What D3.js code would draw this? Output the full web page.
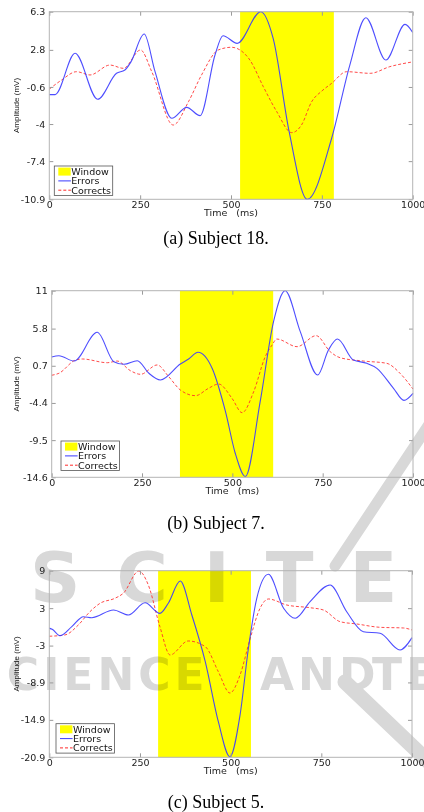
<!DOCTYPE html>
<html>
<head>
<meta charset="utf-8">
<script src="https://cdn.jsdelivr.net/npm/d3@7/dist/d3.min.js"></script>
<style>
  body { margin: 0; background: #fff; }
  svg { display: block; }
</style>
</head>
<body>
<div id="chart"></div>
<script>
const Width = 424;
const Height = 812;

const timeTicks = [0, 250, 500, 750, 1000];
const legendLabels = ["Window", "Errors", "Corrects"];
const captions = ["(a) Subject 18.", "(b) Subject 7.", "(c) Subject 5."];

// (a) subject 18
const yTicksA = [6.3, 2.8, -0.6, -4, -7.4, -10.9];
const windowA = [525, 783];
const errTimeA = [0, 16, 71, 133, 185, 208, 225, 261, 291, 337, 378, 415, 456, 478, 517, 582, 616, 660, 710, 777, 827, 871, 926, 979, 1000];
const errValA = [-1.3, -1.3, 2.49, -1.73, 0.65, 0.95, 1.72, 4.25, 0.8, -3.47, -2.47, -3.23, 2.33, 4.1, 3.4, 6.3, 3.86, -4.7, -10.9, -5.3, 1.41, 5.75, 1.87, 5.14, 4.4];
const corTimeA = [0, 34, 75, 112, 167, 204, 251, 282, 341, 383, 419, 465, 502, 516, 552, 589, 626, 667, 694, 722, 750, 777, 818, 883, 937, 1000];
const corValA = [-0.8, 0.04, 0.8, 0.5, 1.41, 1.11, 2.79, 0.8, -4.09, -1.95, 0.5, 2.79, 3.04, 2.94, 1.87, -0.58, -2.87, -4.79, -4.09, -1.95, -0.97, -0.27, 0.8, 0.65, 1.26, 1.7];

// (b) subject 7
const yTicksB = [11, 5.8, 0.7, -4.4, -9.5, -14.6];
const windowB = [355, 613];
const errTimeB = [0, 20, 62, 126, 172, 200, 237, 269, 301, 356, 379, 405, 444, 481, 508, 536, 577, 614, 646, 688, 736, 766, 791, 835, 872, 900, 946, 975, 1000];
const errValB = [1.9, 2.08, 1.35, 5.29, 1.26, 0.9, 1.4, -0.33, -1.25, 0.94, 1.63, 2.55, 0.35, -5.6, -11.3, -14.5, -4.23, 6.75, 11, 5.38, -0.57, 2.86, 4.37, 1.49, 1.04, 0.35, -2.39, -4.04, -3.08];
const corTimeB = [0, 20, 66, 85, 154, 181, 218, 246, 292, 324, 356, 398, 434, 462, 499, 527, 559, 591, 610, 623, 679, 732, 771, 798, 863, 927, 964, 1000];
const corValB = [-0.6, -0.33, 1.49, 1.63, 1.12, 1.35, 0.02, -0.47, 0.81, -0.8, -2.62, -3.4, -2.39, -1.8, -3.76, -5.74, -2.86, 1.94, 3.55, 4.37, 3.32, 4.83, 2.63, 1.81, 1.35, 1.04, -0.33, -2.49];

// (c) subject 5
const yTicksC = [9, 3, -3, -8.9, -14.9, -20.9];
const windowC = [300, 556];
const errTimeC = [0, 8, 30, 62, 94, 117, 177, 218, 264, 305, 328, 361, 393, 430, 466, 498, 526, 549, 572, 604, 646, 678, 719, 774, 820, 866, 912, 967, 1000];
const errValC = [-0.2, -0.39, -1.41, 0.03, 1.63, 1.47, 2.7, 1.9, 3.87, 2.17, 3.78, 7.35, 1.9, -5.58, -15.2, -20.8, -14.1, -3.43, 4.58, 8.42, 2.98, 1.37, 4.04, 6.71, 2.43, -0.77, -1.03, -3.7, -1.73];
const corTimeC = [0, 43, 80, 112, 140, 181, 204, 247, 273, 305, 333, 383, 430, 466, 498, 526, 554, 581, 604, 655, 719, 756, 802, 848, 912, 977, 1000];
const corValC = [-1.5, -1.3, 0.3, 2.43, 3.78, 4.58, 5.38, 8.95, 6.71, 0.03, -4.5, -2.26, -3.17, -7.18, -10.6, -7.7, -1.83, 2.98, 4.47, 3.5, 3.07, 2.7, 0.83, 0.46, -0.07, -0.18, -0.5];

const panels = [
  { yTicks: yTicksA, win: windowA, errT: errTimeA, errV: errValA, corT: corTimeA, corV: corValA,
    left: 49.3, right: 412.7, top: 11.7, bottom: 199.3, legX: 5, legY: 33.3, capY: 244 },
  { yTicks: yTicksB, win: windowB, errT: errTimeB, errV: errValB, corT: corTimeB, corV: corValB,
    left: 51.7, right: 413, top: 290.7, bottom: 477.3, legX: 9.3, legY: 36.3, capY: 529 },
  { yTicks: yTicksC, win: windowC, errT: errTimeC, errV: errValC, corT: corTimeC, corV: corValC,
    left: 49.3, right: 412, top: 570.7, bottom: 757.3, legX: 6.7, legY: 33.6, capY: 808 }
];

const svg = d3.select("#chart").append("svg").attr("width", Width).attr("height", Height);

const layerBack = svg.append("g");
const layerMark = svg.append("g").style("mix-blend-mode", "multiply");
const layerFront = svg.append("g");

const tickFont = "'DejaVu Sans', sans-serif";
const plain = d => String(d);

const drawPanel = (p, i) => {
  const x = d3.scaleLinear().domain([0, 1000]).range([p.left, p.right]);
  const y = d3.scaleLinear().domain([p.yTicks[p.yTicks.length - 1], p.yTicks[0]]).range([p.bottom, p.top]);

  // window
  layerBack.append("rect")
    .attr("x", x(p.win[0]))
    .attr("y", p.top)
    .attr("width", x(p.win[1]) - x(p.win[0]))
    .attr("height", p.bottom - p.top)
    .attr("fill", "#ffff00");

  const g = layerFront.append("g");

  const line = d3.line()
    .x(d => x(d[0]))
    .y(d => y(d[1]))
    .curve(d3.curveMonotoneX);

  const corData = d3.zip(p.corT, p.corV);
  const errData = d3.zip(p.errT, p.errV);

  g.append("path")
    .attr("d", line(corData))
    .attr("fill", "none")
    .attr("stroke", "#ff2a2a")
    .attr("stroke-opacity", 0.85)
    .attr("stroke-width", 1)
    .attr("stroke-dasharray", "3,2");

  g.append("path")
    .attr("d", line(errData))
    .attr("fill", "none")
    .attr("stroke", "#3a3aff")
    .attr("stroke-opacity", 0.9)
    .attr("stroke-width", 1.1);

  // axes with inward ticks on all sides
  const styleAxis = (sel) => {
    sel.select(".domain").remove();
    sel.selectAll(".tick line").attr("stroke", "#9a9a9a");
    sel.selectAll("text")
      .attr("fill", "#222")
      .style("font-family", tickFont)
      .style("font-size", "9.5px");
  };

  g.append("g")
    .attr("transform", `translate(0,${p.bottom})`)
    .call(d3.axisBottom(x).tickValues(timeTicks).tickSizeInner(-4).tickSizeOuter(0).tickPadding(2).tickFormat(plain))
    .call(styleAxis);
  g.append("g")
    .attr("transform", `translate(0,${p.top})`)
    .call(d3.axisTop(x).tickValues(timeTicks).tickSizeInner(-4).tickSizeOuter(0).tickFormat(""))
    .call(styleAxis);
  g.append("g")
    .attr("transform", `translate(${p.left},0)`)
    .call(d3.axisLeft(y).tickValues(p.yTicks).tickSizeInner(-4).tickSizeOuter(0).tickPadding(4).tickFormat(plain))
    .call(styleAxis);
  g.append("g")
    .attr("transform", `translate(${p.right},0)`)
    .call(d3.axisRight(y).tickValues(p.yTicks).tickSizeInner(-4).tickSizeOuter(0).tickFormat(""))
    .call(styleAxis);

  g.append("rect")
    .attr("x", p.left)
    .attr("y", p.top)
    .attr("width", p.right - p.left)
    .attr("height", p.bottom - p.top)
    .attr("fill", "none")
    .attr("stroke", "#b4b4b4")
    .attr("stroke-width", 1);

  // axis titles
  g.append("text")
    .attr("x", (p.left + p.right) / 2)
    .attr("y", p.bottom + 16.3)
    .attr("text-anchor", "middle")
    .style("white-space", "pre")
    .style("font-family", tickFont)
    .style("font-size", "9.5px")
    .attr("fill", "#222")
    .text("Time   (ms)");

  g.append("text")
    .attr("transform", `translate(18.5,${(p.top + p.bottom) / 2}) rotate(-90)`)
    .attr("text-anchor", "middle")
    .style("font-family", "'Liberation Sans', Arial, sans-serif")
    .style("font-size", "8px")
    .attr("fill", "#222")
    .text("Amplitude (mV)");

  // legend
  const lx = p.left + p.legX;
  const ly = p.bottom - p.legY;
  const leg = g.append("g").attr("transform", `translate(${lx},${ly})`);
  leg.append("rect")
    .attr("width", 58.4)
    .attr("height", 29.4)
    .attr("fill", "#fff")
    .attr("stroke", "#555")
    .attr("stroke-width", 0.8);
  const rows = leg.selectAll("g.row").data(legendLabels).join("g")
    .attr("class", "row")
    .attr("transform", (d, k) => `translate(0,${5.6 + k * 9.3})`);
  rows.each(function (d, k) {
    const r = d3.select(this);
    if (k === 0) {
      r.append("rect").attr("x", 4).attr("y", -4).attr("width", 12.4).attr("height", 8).attr("fill", "#ffff00");
    } else {
      r.append("line").attr("x1", 4).attr("x2", 16.6).attr("y1", 0).attr("y2", 0)
        .attr("stroke", k === 1 ? "#3a3aff" : "#ff2a2a")
        .attr("stroke-width", 1)
        .attr("stroke-dasharray", k === 2 ? "3,2" : null);
    }
    r.append("text")
      .attr("x", 17)
      .attr("y", 3.4)
      .style("font-family", tickFont)
      .style("font-size", "9.5px")
      .attr("fill", "#111")
      .text(d);
  });

  // caption
  svg.append("text")
    .attr("x", 216)
    .attr("y", p.capY)
    .attr("text-anchor", "middle")
    .style("font-family", "'Liberation Serif', 'Times New Roman', serif")
    .style("font-size", "18px")
    .attr("fill", "#000")
    .text(captions[i]);
};

panels.forEach(drawPanel);

// publisher watermark
const wmFill = "#d8d8d8";
const wmText = (str, x, y, size) => layerMark.append("text")
  .attr("x", x).attr("y", y)
  .style("font-family", "'DejaVu Sans', sans-serif")
  .style("font-weight", "bold")
  .style("font-size", size + "px")
  .style("letter-spacing", "4px")
  .attr("fill", wmFill)
  .text(str);

wmText("SCITE", 30, 602, 70).style("letter-spacing", "36px");
wmText("SCIENCE", -29, 690, 44);
wmText("AND", 260, 690, 44);
wmText("TECHNOLOGY", 372, 690, 44);

layerMark.append("line")
  .attr("x1", 335).attr("y1", 566).attr("x2", 432).attr("y2", 420)
  .attr("stroke", wmFill).attr("stroke-width", 11).attr("stroke-linecap", "round");
layerMark.append("line")
  .attr("x1", 345).attr("y1", 682).attr("x2", 432).attr("y2", 765)
  .attr("stroke", wmFill).attr("stroke-width", 15).attr("stroke-linecap", "round");
</script>
</body>
</html>
